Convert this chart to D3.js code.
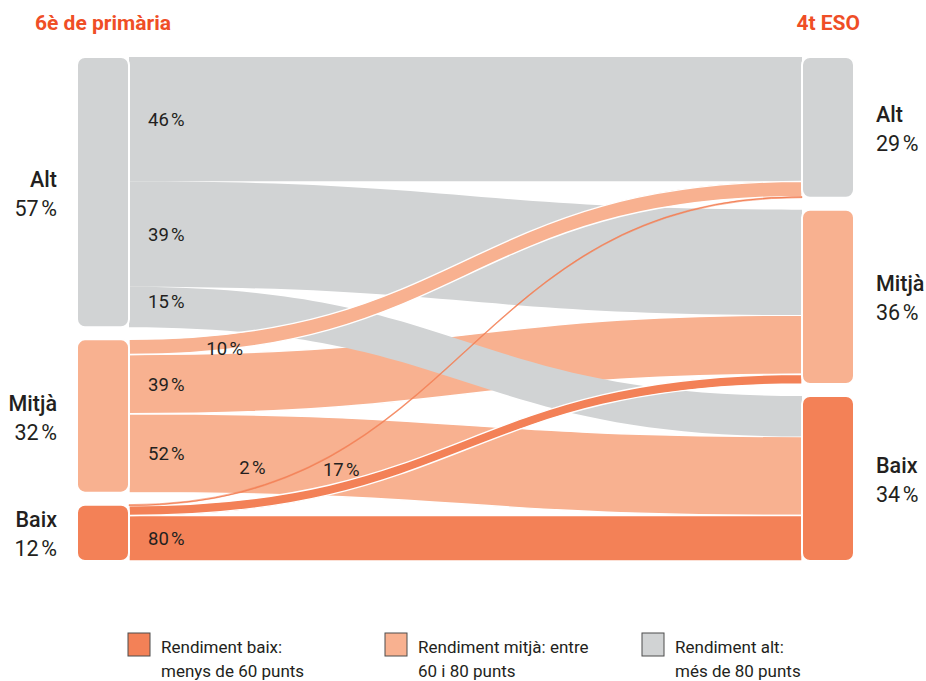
<!DOCTYPE html>
<html>
<head>
<meta charset="utf-8">
<script src="https://cdn.jsdelivr.net/npm/d3@7"></script>
<style>
  body { margin: 0; background: #fff; }
  text { font-family: Roboto, "Noto Sans", sans-serif; fill: #231f20; }
</style>
</head>
<body>
<svg id="sankey" width="926" height="681"></svg>
<script>
// levels of performance (same order on both sides)
var levels = ["Alt", "Mitjà", "Baix"];
// share of students per level in 6è de primària and in 4t ESO (%)
var sharesPrimary = [57, 32, 12];
var sharesEso = [29, 36, 34];
// row = level in 6è, column = level in 4t ESO (% of the row)
var transitions = [
    [46, 39, 15],
    [10, 39, 52],
    [2, 17, 80]
];
var columnTitles = ["6è de primària", "4t ESO"];
var legendLabels = [
    ["Rendiment baix:", "menys de 60 punts"],
    ["Rendiment mitjà: entre", "60 i 80 punts"],
    ["Rendiment alt:", "més de 80 punts"]
];

function sankeyVisual() {
    var svg = d3.select("#sankey"),
        top = 57, bottom = 561,
        gap = 12,
        nodeW = 52,
        xLeft = 77, xRight = 802;

    var color = d3.scaleOrdinal().domain(levels).range(["#d1d3d4", "#f8b190", "#f38157"]);
    var pct = function (v) { return v + "\u202f%"; };

    // build links (value = share of all students)
    var links = [];
    transitions.forEach(function (row, i) {
        row.forEach(function (p, j) {
            links.push({ from: i, to: j, pct: p, value: sharesPrimary[i] * p / 100 });
        });
    });
    var total = d3.sum(links, d => d.value);
    var y = d3.scaleLinear().domain([0, total]).range([0, bottom - top - gap * (levels.length - 1)]);

    // node layout
    function layoutNodes(side) {
        var acc = top;
        return levels.map(function (name, k) {
            var v = d3.sum(links.filter(l => (side === 0 ? l.from : l.to) === k), l => l.value);
            var n = { name: name, index: k, side: side, y0: acc, y1: acc + y(v) };
            acc = n.y1 + gap;
            return n;
        });
    }
    var leftNodes = layoutNodes(0), rightNodes = layoutNodes(1);

    // stack links at source (ordered by target) and target (ordered by source)
    leftNodes.forEach(function (n) {
        var acc = n.y0;
        links.filter(l => l.from === n.index).sort((a, b) => a.to - b.to).forEach(function (l) {
            l.sy0 = acc; l.sy1 = acc + y(l.value); acc = l.sy1;
        });
    });
    rightNodes.forEach(function (n) {
        var acc = n.y0;
        links.filter(l => l.to === n.index).sort((a, b) => a.from - b.from).forEach(function (l) {
            l.ty0 = acc; l.ty1 = acc + y(l.value); acc = l.ty1;
        });
    });

    var x0 = xLeft + nodeW, x1 = xRight, xm = (x0 + x1) / 2;

    function ribbon(d) {
        var p = d3.path();
        p.moveTo(x0, d.sy0);
        p.bezierCurveTo(xm, d.sy0, xm, d.ty0, x1, d.ty0);
        p.lineTo(x1, d.ty1);
        p.bezierCurveTo(xm, d.ty1, xm, d.sy1, x0, d.sy1);
        p.closePath();
        return p.toString();
    }

    // point on the centre line of a link at parameter t
    function pointAt(d, t) {
        var a = (d.sy0 + d.sy1) / 2, b = (d.ty0 + d.ty1) / 2, u = 1 - t;
        return [
            u * u * u * x0 + 3 * u * u * t * xm + 3 * u * t * t * xm + t * t * t * x1,
            u * u * u * a + 3 * u * u * t * a + 3 * u * t * t * b + t * t * t * b
        ];
    }

    // drawing order so crossings overlap as in the original
    var drawOrder = [[1, 1], [1, 2], [0, 0], [0, 1], [0, 2], [1, 0], [2, 2], [2, 1], [2, 0]];
    var ordered = drawOrder.map(o => links.find(l => l.from === o[0] && l.to === o[1]));

    // very thin links would vanish under a white outline: outline them in their own colour
    svg.append("g").attr("class", "links")
        .selectAll("path")
        .data(ordered)
        .enter().append("path")
        .attr("d", ribbon)
        .attr("fill", d => color(levels[d.from]))
        .attr("stroke", function (d) {
            if (d.sy1 - d.sy0 < 3) return color(levels[d.from]);
            return d.from === 0 ? "none" : "#fff";
        })
        .attr("stroke-width", d => d.sy1 - d.sy0 < 3 ? 0.6 : 1.4);

    // nodes
    svg.append("g").attr("class", "nodes")
        .selectAll("rect")
        .data(leftNodes.concat(rightNodes))
        .enter().append("rect")
        .attr("x", d => d.side === 0 ? xLeft : xRight)
        .attr("y", d => d.y0)
        .attr("width", nodeW)
        .attr("height", d => d.y1 - d.y0)
        .attr("rx", 8)
        .attr("fill", d => color(d.name))
        .attr("stroke", "#fff")
        .attr("stroke-width", 2);

    // link labels
    var special = {
        "1-0": { t: 0.105, dy: 6 },
        "2-0": { t: 0.14, dy: -21 },
        "2-1": { t: 0.27, dy: -18 },
        "0-2": { dy: -6 }
    };
    svg.append("g").attr("class", "link-labels")
        .selectAll("text")
        .data(links)
        .enter().append("text")
        .each(function (d) {
            var s = special[d.from + "-" + d.to] || {}, px, py, anchor = "start";
            if (s.t !== undefined) {
                var pt = pointAt(d, s.t);
                px = pt[0]; py = pt[1] + s.dy; anchor = "middle";
            } else {
                px = x0 + 19; py = (d.sy0 + d.sy1) / 2 + (s.dy || 0);
            }
            d3.select(this)
                .attr("x", px).attr("y", py)
                .attr("dy", "0.35em")
                .attr("text-anchor", anchor)
                .style("font-size", "18.5px")
                .text(pct(d.pct));
        });

    // node labels
    function nodeLabels(nodes, shares, xPos, anchor) {
        var g = svg.append("g").selectAll("g")
            .data(nodes)
            .enter().append("g")
            .attr("transform", d => "translate(" + xPos + "," + (d.y0 + d.y1) / 2 + ")");
        g.append("text")
            .attr("y", -13).attr("dy", "0.35em")
            .attr("text-anchor", anchor)
            .style("font-size", "21.5px").style("font-weight", 500)
            .text(d => d.name);
        g.append("text")
            .attr("y", 16).attr("dy", "0.35em")
            .attr("text-anchor", anchor)
            .style("font-size", "21.5px")
            .text((d, i) => pct(shares[i]));
    }
    nodeLabels(leftNodes, sharesPrimary, 57, "end");
    nodeLabels(rightNodes, sharesEso, 876, "start");

    // column titles
    svg.append("text")
        .attr("x", 35).attr("y", 30)
        .style("font-size", "21px").style("font-weight", 700).style("fill", "#ef4e26")
        .text(columnTitles[0]);
    svg.append("text")
        .attr("x", 860).attr("y", 30).attr("text-anchor", "end")
        .style("font-size", "21px").style("font-weight", 700).style("fill", "#ef4e26")
        .text(columnTitles[1]);

    // legend (low, mid, high)
    var legendColors = [color("Baix"), color("Mitjà"), color("Alt")];
    var legend = svg.append("g").attr("class", "legend")
        .selectAll("g")
        .data(legendLabels)
        .enter().append("g")
        .attr("transform", (d, i) => "translate(" + [128, 385, 642][i] + ",633)");
    legend.append("rect")
        .attr("width", 22).attr("height", 23)
        .attr("fill", (d, i) => legendColors[i])
        .attr("stroke", "#4d4d4d").attr("stroke-width", 1);
    legend.append("text")
        .attr("x", 33).attr("y", 20)
        .style("font-size", "17px")
        .selectAll("tspan")
        .data(d => d)
        .enter().append("tspan")
        .attr("x", 33)
        .attr("dy", (d, i) => i === 0 ? 0 : 24)
        .text(d => d);
}

sankeyVisual();
</script>
</body>
</html>
